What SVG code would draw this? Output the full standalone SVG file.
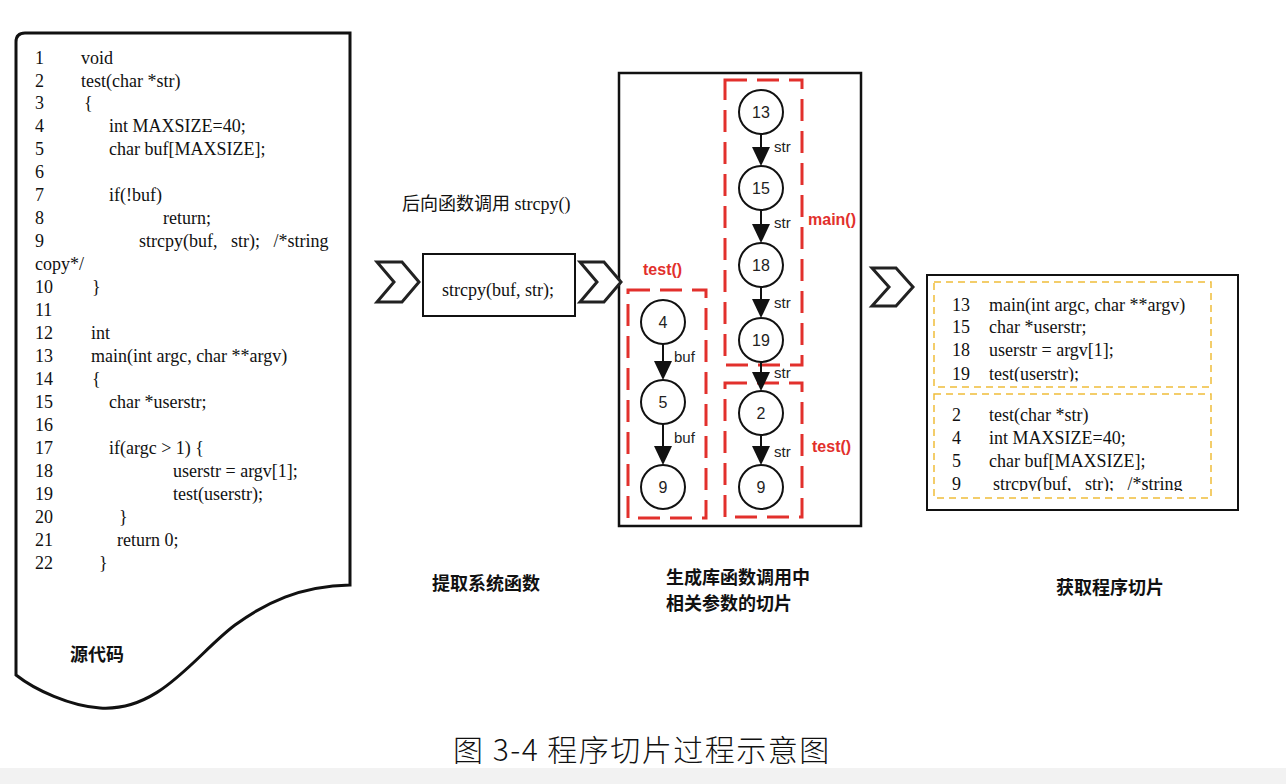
<svg xmlns="http://www.w3.org/2000/svg" width="1286" height="784" viewBox="0 0 1286 784">
<defs>
<style>
.code{font-family:"Liberation Serif","Times New Roman",serif;font-size:18px;fill:#111}
.cap{font-family:"Noto Sans CJK SC",sans-serif;font-size:18px;font-weight:bold;fill:#111}
.lbl{font-family:"Liberation Sans",Arial,sans-serif;font-size:15px;fill:#222}
.num{font-family:"Liberation Sans",Arial,sans-serif;font-size:16px;fill:#222;text-anchor:middle}
.red{font-family:"Liberation Sans",Arial,sans-serif;font-size:16px;font-weight:bold;fill:#e2302c}
.node{fill:#fff;stroke:#111;stroke-width:2}
.rbox{fill:none;stroke:#e2302c;stroke-width:3;stroke-dasharray:22 10}
.ybox{fill:none;stroke:#f0bd3a;stroke-width:1.5;stroke-dasharray:7 5}
.chev{fill:#fff;stroke:#222;stroke-width:3;stroke-linejoin:miter}
.edge{stroke:#111;stroke-width:2}
.head{fill:#111}
</style>
<clipPath id="clipA"><rect x="934" y="282" width="277" height="99.5"/></clipPath>
<clipPath id="clipB"><rect x="934" y="394" width="277" height="97"/></clipPath>
</defs>
<rect width="1286" height="784" fill="#fff"/>
<rect x="0" y="768" width="1286" height="16" fill="#f2f2f2"/>

<g id="source-doc">
<path d="M16,675 L16,42 Q16,33 25,33 L350,33 L350,585 C300,586 265,603 235,625 C195,655 160,712 100,708 C70,706 35,690 16,675 Z" fill="#fff" stroke="#111" stroke-width="3"/>
<g class="code">
<text x="35" y="64">1</text><text x="81" y="64">void</text>
<text x="35" y="87">2</text><text x="81" y="87">test(char *str)</text>
<text x="35" y="109">3</text><text x="84" y="109">{</text>
<text x="35" y="132">4</text><text x="109" y="132">int MAXSIZE=40;</text>
<text x="35" y="155">5</text><text x="109" y="155">char buf[MAXSIZE];</text>
<text x="35" y="178">6</text>
<text x="35" y="201">7</text><text x="109" y="201">if(!buf)</text>
<text x="35" y="224">8</text><text x="163" y="224">return;</text>
<text x="35" y="247">9</text><text x="139" y="247" xml:space="preserve">strcpy(buf,   str);   /*string</text>
<text x="35" y="270">copy*/</text>
<text x="35" y="293">10</text><text x="92" y="293">}</text>
<text x="35" y="316">11</text>
<text x="35" y="339">12</text><text x="91" y="339">int</text>
<text x="35" y="362">13</text><text x="91" y="362">main(int argc, char **argv)</text>
<text x="35" y="385">14</text><text x="92" y="385">{</text>
<text x="35" y="408">15</text><text x="109" y="408">char *userstr;</text>
<text x="35" y="431">16</text>
<text x="35" y="454">17</text><text x="109" y="454">if(argc &gt; 1) {</text>
<text x="35" y="477">18</text><text x="173" y="477">userstr = argv[1];</text>
<text x="35" y="500">19</text><text x="173" y="500">test(userstr);</text>
<text x="35" y="523">20</text><text x="119" y="523">}</text>
<text x="35" y="546">21</text><text x="117" y="546">return 0;</text>
<text x="35" y="569">22</text><text x="99" y="569">}</text>
</g>
<text class="cap" x="70" y="661">源代码</text>
</g>

<g id="chevron-1"><polygon class="chev" points="377,262 402,262 419,282 402,302 377,302 394,282"/></g>

<g id="extract">
<text x="402" y="210" style="font-family:'Liberation Serif','Noto Sans CJK SC',serif;font-size:18px;fill:#111">后向函数调用 strcpy()</text>
<rect x="423" y="254" width="152" height="62" fill="#fff" stroke="#111" stroke-width="2"/>
<text class="code" x="498" y="296" text-anchor="middle">strcpy(buf, str);</text>
<text class="cap" x="432" y="590">提取系统函数</text>
</g>

<g id="slice-panel">
<rect x="619" y="73" width="242" height="453" fill="#fff" stroke="#111" stroke-width="2.5"/>
<rect class="rbox" x="725" y="80" width="77" height="285"/>
<rect class="rbox" x="725" y="383" width="77" height="134"/>
<rect class="rbox" x="628" y="290" width="78" height="228"/>
<text class="red" x="808" y="225">main()</text>
<text class="red" x="812" y="452">test()</text>
<text class="red" x="643" y="275">test()</text>
<text class="cap" x="666" y="584">生成库函数调用中</text>
<text class="cap" x="666" y="610">相关参数的切片</text>
</g>

<g id="chevron-2"><polygon class="chev" points="580,262 604,262 621,282 604,302 580,302 597,282"/></g>

<g id="connectors">
<line class="edge" x1="761" y1="134" x2="761" y2="148"/><polygon class="head" points="752,147 770,147 761,166"/>
<line class="edge" x1="761" y1="210" x2="761" y2="225"/><polygon class="head" points="752,224 770,224 761,243"/>
<line class="edge" x1="761" y1="287" x2="761" y2="300"/><polygon class="head" points="752,299 770,299 761,318"/>
<line class="edge" x1="761" y1="362" x2="761" y2="373"/><polygon class="head" points="752,372 770,372 761,391"/>
<line class="edge" x1="761" y1="435" x2="761" y2="447"/><polygon class="head" points="752,446 770,446 761,465"/>
<line class="edge" x1="663" y1="344" x2="663" y2="362"/><polygon class="head" points="654,361 672,361 663,380"/>
<line class="edge" x1="663" y1="424" x2="663" y2="447"/><polygon class="head" points="654,446 672,446 663,465"/>
<text class="lbl" x="774" y="152">str</text>
<text class="lbl" x="774" y="228">str</text>
<text class="lbl" x="774" y="308">str</text>
<text class="lbl" x="774" y="378">str</text>
<text class="lbl" x="774" y="457">str</text>
<text class="lbl" x="674" y="362">buf</text>
<text class="lbl" x="674" y="443">buf</text>
</g>

<g id="n13"><circle class="node" cx="761" cy="112" r="22"/><text class="num" x="761" y="118">13</text></g>
<g id="n15"><circle class="node" cx="761" cy="188" r="22"/><text class="num" x="761" y="194">15</text></g>
<g id="n18"><circle class="node" cx="761" cy="265" r="22"/><text class="num" x="761" y="271">18</text></g>
<g id="n19"><circle class="node" cx="761" cy="340" r="22"/><text class="num" x="761" y="346">19</text></g>
<g id="n2"><circle class="node" cx="761" cy="413" r="22"/><text class="num" x="761" y="419">2</text></g>
<g id="n9b"><circle class="node" cx="761" cy="487" r="22"/><text class="num" x="761" y="493">9</text></g>
<g id="n4"><circle class="node" cx="663" cy="322" r="22"/><text class="num" x="663" y="328">4</text></g>
<g id="n5"><circle class="node" cx="663" cy="402" r="22"/><text class="num" x="663" y="408">5</text></g>
<g id="n9a"><circle class="node" cx="663" cy="487" r="22"/><text class="num" x="663" y="493">9</text></g>

<g id="chevron-3"><polygon class="chev" points="872,268 896,268 913,287 896,306 872,306 889,287"/></g>

<g id="result">
<rect x="927" y="275" width="311" height="235" fill="#fff" stroke="#111" stroke-width="2"/>
<rect class="ybox" x="934" y="282" width="277" height="105"/>
<rect class="ybox" x="934" y="394" width="277" height="104"/>
<g class="code" clip-path="url(#clipA)">
<text x="952" y="311">13</text><text x="989" y="311">main(int argc, char **argv)</text>
<text x="952" y="333">15</text><text x="989" y="333">char *userstr;</text>
<text x="952" y="356">18</text><text x="989" y="356">userstr = argv[1];</text>
<text x="952" y="380">19</text><text x="989" y="380">test(userstr);</text>
</g>
<g class="code" clip-path="url(#clipB)">
<text x="952" y="421">2</text><text x="989" y="421">test(char *str)</text>
<text x="952" y="444">4</text><text x="989" y="444">int MAXSIZE=40;</text>
<text x="952" y="467">5</text><text x="989" y="467">char buf[MAXSIZE];</text>
<text x="952" y="490">9</text><text x="993" y="490" xml:space="preserve">strcpy(buf,   str);   /*string</text>
</g>
<text class="cap" x="1056" y="594">获取程序切片</text>
</g>

<text x="453" y="761" style="font-family:'Noto Sans CJK SC',sans-serif;font-size:30px;font-weight:300;letter-spacing:1.5px;fill:#111">图 3-4 程序切片过程示意图</text>
</svg>
